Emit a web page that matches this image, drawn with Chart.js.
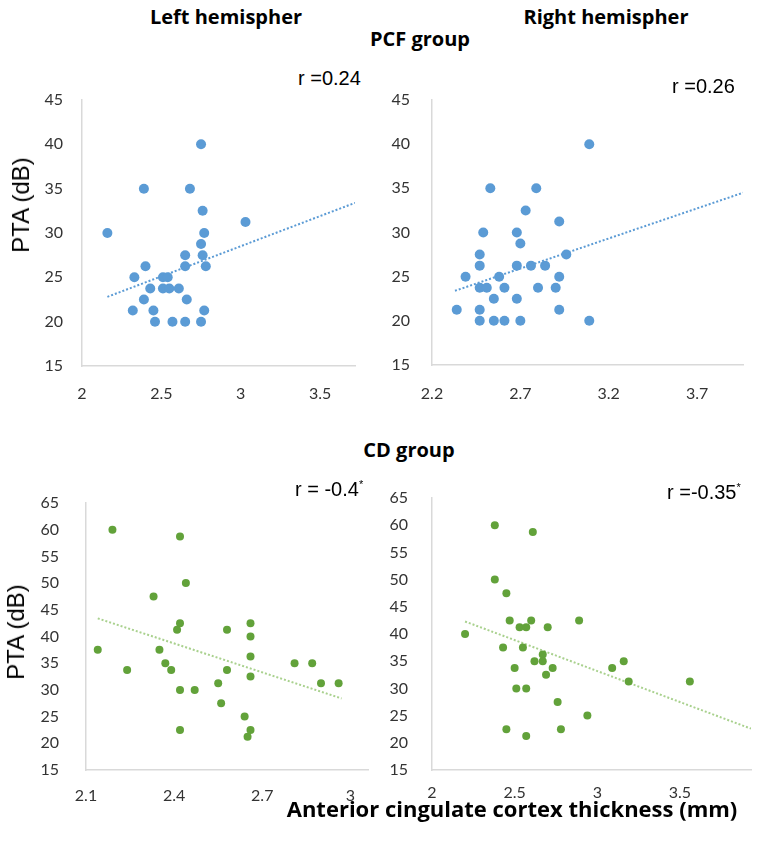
<!DOCTYPE html>
<html lang="en">
<head>
    <meta charset="UTF-8">
    <title>PTA vs anterior cingulate cortex thickness</title>
    <script src="https://cdn.jsdelivr.net/npm/chart.js@4.4.0/dist/chart.umd.min.js"></script>
    <style>
        body {
            margin: 0;
            width: 769px;
            height: 843px;
            position: relative;
            background: #fff;
            overflow: hidden;
        }
        canvas {
            position: absolute;
        }
        .txt {
            position: absolute;
            white-space: nowrap;
            line-height: 1;
            transform: translate(-50%, -50%);
            color: #000;
        }
        .head {
            font-family: "Open Sans", sans-serif;
            font-weight: bold;
            font-size: 20px;
        }
        .r {
            font-family: "Liberation Sans", Arial, sans-serif;
            font-size: 20px;
            transform: translate(0, -50%);
        }
        .r sup {
            font-size: 11px;
            vertical-align: 8px;
        }
        .ytitle {
            font-family: "Liberation Sans", Arial, sans-serif;
            font-size: 24px;
            transform: translate(-50%, -50%) rotate(-90deg);
        }
    </style>
</head>
<body>
    <canvas id="pcfLeft" width="365" height="320" style="left:0px;top:90px"></canvas>
    <canvas id="pcfRight" width="373" height="320" style="left:380px;top:90px"></canvas>
    <canvas id="cdLeft" width="378" height="320" style="left:0px;top:493px"></canvas>
    <canvas id="cdRight" width="381" height="320" style="left:380px;top:488px"></canvas>

    <div class="txt head" style="left:226px;top:17px">Left hemispher</div>
    <div class="txt head" style="left:606px;top:17px">Right hemispher</div>
    <div class="txt head" style="left:420px;top:39px">PCF group</div>
    <div class="txt head" style="left:409px;top:450px">CD group</div>
    <div class="txt head" style="left:512px;top:808px;font-size:22px">Anterior cingulate cortex thickness (mm)</div>

    <div class="txt r" style="left:298px;top:78px">r =0.24</div>
    <div class="txt r" style="left:672px;top:86px">r =0.26</div>
    <div class="txt r" style="left:295px;top:489px">r = -0.4<sup>*</sup></div>
    <div class="txt r" style="left:667px;top:492px">r =-0.35<sup>*</sup></div>

    <div class="txt ytitle" style="left:21px;top:205px">PTA (dB)</div>
    <div class="txt ytitle" style="left:16px;top:632px">PTA (dB)</div>

    <script>
        // PCF group, left hemisphere
        const pcfLeftX = [2.16, 2.39, 2.68, 2.75, 2.76, 3.03, 2.77, 2.75, 2.65, 2.76, 2.40, 2.65, 2.78, 2.33, 2.51,
                          2.54, 2.43, 2.51, 2.55, 2.61, 2.39, 2.66, 2.32, 2.45, 2.77, 2.46, 2.57, 2.65, 2.75];
        const pcfLeftY = [30, 35, 35, 40, 32.5, 31.25, 30, 28.75, 27.5, 27.5, 26.25, 26.25, 26.25, 25, 25,
                          25, 23.75, 23.75, 23.75, 23.75, 22.5, 22.5, 21.25, 21.25, 21.25, 20, 20, 20, 20];
        const pcfLeftTrendX = [2.16, 3.72];
        const pcfLeftTrendY = [22.8, 33.4];

        // PCF group, right hemisphere
        const pcfRightX = [3.09, 2.53, 2.79, 2.73, 2.92, 2.49, 2.68, 2.70, 2.47, 2.96, 2.47, 2.68, 2.76, 2.84, 2.39, 2.58,
                           2.92, 2.47, 2.51, 2.61, 2.80, 2.90, 2.55, 2.68, 2.34, 2.47, 2.92, 2.47, 2.55, 2.61, 2.70, 3.09];
        const pcfRightY = [40, 35, 35, 32.5, 31.25, 30, 30, 28.75, 27.5, 27.5, 26.25, 26.25, 26.25, 26.25, 25, 25,
                           25, 23.75, 23.75, 23.75, 23.75, 23.75, 22.5, 22.5, 21.25, 21.25, 21.25, 20, 20, 20, 20, 20];
        const pcfRightTrendX = [2.33, 3.96];
        const pcfRightTrendY = [23.4, 34.5];

        // CD group, left hemisphere
        const cdLeftX = [2.19, 2.42, 2.44, 2.33, 2.42, 2.41, 2.14, 2.35, 2.24, 2.37, 2.39, 2.42, 2.47, 2.55, 2.56,
                         2.58, 2.58, 2.66, 2.66, 2.66, 2.66, 2.64, 2.66, 2.65, 2.42, 2.81, 2.87, 2.90, 2.96];
        const cdLeftY = [60, 58.75, 50, 47.5, 42.5, 41.25, 37.5, 37.5, 33.75, 35, 33.75, 30, 30, 31.25, 27.5,
                         33.75, 41.25, 42.5, 40, 36.25, 32.5, 25, 22.5, 21.25, 22.5, 35, 35, 31.25, 31.25];
        const cdLeftTrendX = [2.14, 2.97];
        const cdLeftTrendY = [43.4, 28.4];

        // CD group, right hemisphere
        const cdRightX = [2.38, 2.61, 2.38, 2.45, 2.47, 2.60, 2.89, 2.53, 2.57, 2.70, 2.20, 2.43, 2.55, 2.67, 2.62,
                          2.67, 2.50, 2.73, 2.69, 3.09, 3.16, 3.19, 3.56, 2.51, 2.57, 2.76, 2.94, 2.45, 2.78, 2.57];
        const cdRightY = [60, 58.75, 50, 47.5, 42.5, 42.5, 42.5, 41.25, 41.25, 41.25, 40, 37.5, 37.5, 36.25, 35,
                          35, 33.75, 33.75, 32.5, 33.75, 35, 31.25, 31.25, 30, 30, 27.5, 25, 22.5, 22.5, 21.25];
        const cdRightTrendX = [2.2, 3.93];
        const cdRightTrendY = [42.3, 22.6];

        // tick values (also used as the tick labels)
        const pcfYTicks = [15, 20, 25, 30, 35, 40, 45];
        const cdYTicks = [15, 20, 25, 30, 35, 40, 45, 50, 55, 60, 65];
        const pcfLeftXTicks = [2, 2.5, 3, 3.5];
        const pcfRightXTicks = [2.2, 2.7, 3.2, 3.7];
        const cdLeftXTicks = [2.1, 2.4, 2.7, 3];
        const cdRightXTicks = [2, 2.5, 3, 3.5];

        const toPoints = (xs, ys) => xs.map((x, i) => ({ x: x, y: ys[i] }));

        function axis(min, max, ticks, fixedSize, padding, isY) {
            return {
                type: 'linear',
                min: min,
                max: max,
                grid: { display: false, drawTicks: false },
                border: { display: true, color: '#d9d9d9', width: 1.5 },
                ticks: {
                    padding: padding,
                    autoSkip: false,
                    maxRotation: 0,
                    color: '#333',
                    font: { family: 'Lato, sans-serif', size: 16 },
                    callback: v => String(v)
                },
                afterBuildTicks: s => { s.ticks = ticks.map(v => ({ value: v })); },
                afterFit: s => {
                    // the plot box is placed by the canvas position, not by label overflow
                    s.paddingTop = 0; s.paddingBottom = 0;
                    s.paddingLeft = 0; s.paddingRight = 0;
                    if (isY) s.width = fixedSize; else s.height = fixedSize;
                }
            };
        }

        function makePanel(id, p) {
            return new Chart(document.getElementById(id).getContext('2d'), {
                type: 'scatter',
                data: {
                    datasets: [{
                        data: toPoints(p.xs, p.ys),
                        pointRadius: p.radius,
                        pointBackgroundColor: p.color,
                        pointBorderWidth: 0,
                        showLine: false
                    }, {
                        data: toPoints(p.trendX, p.trendY),
                        showLine: true,
                        pointRadius: 0,
                        borderColor: p.trendColor,
                        borderWidth: 2,
                        borderDash: [2, 2],
                        fill: false
                    }]
                },
                options: {
                    responsive: false,
                    animation: false,
                    events: [],
                    layout: { padding: { top: 10, right: 10, left: 0, bottom: 0 } },
                    plugins: { legend: { display: false }, tooltip: { enabled: false } },
                    scales: {
                        x: axis(p.xMin, p.xMax, p.xTicks, p.xAxisH, p.xPad, false),
                        y: axis(p.yMin, p.yMax, p.yTicks, p.yAxisW, p.yPad, true)
                    }
                }
            });
        }

        const blue = '#5b9bd5';
        const green = '#62a23a';

        makePanel('pcfLeft', {
            xs: pcfLeftX, ys: pcfLeftY, trendX: pcfLeftTrendX, trendY: pcfLeftTrendY,
            xMin: 2, xMax: 3.72, xTicks: pcfLeftXTicks, yMin: 15, yMax: 45, yTicks: pcfYTicks,
            xAxisH: 44, yAxisW: 82, xPad: 18, yPad: 19,
            radius: 5, color: blue, trendColor: blue
        });
        makePanel('pcfRight', {
            xs: pcfRightX, ys: pcfRightY, trendX: pcfRightTrendX, trendY: pcfRightTrendY,
            xMin: 2.2, xMax: 3.96, xTicks: pcfRightXTicks, yMin: 15, yMax: 45, yTicks: pcfYTicks,
            xAxisH: 45, yAxisW: 52, xPad: 19, yPad: 22,
            radius: 5, color: blue, trendColor: blue
        });
        makePanel('cdLeft', {
            xs: cdLeftX, ys: cdLeftY, trendX: cdLeftTrendX, trendY: cdLeftTrendY,
            xMin: 2.1, xMax: 3.06, xTicks: cdLeftXTicks, yMin: 15, yMax: 65, yTicks: cdYTicks,
            xAxisH: 43, yAxisW: 86, xPad: 16, yPad: 27,
            radius: 4, color: green, trendColor: '#a9d18e'
        });
        makePanel('cdRight', {
            xs: cdRightX, ys: cdRightY, trendX: cdRightTrendX, trendY: cdRightTrendY,
            xMin: 2, xMax: 3.93, xTicks: cdRightXTicks, yMin: 15, yMax: 65, yTicks: cdYTicks,
            xAxisH: 38, yAxisW: 52, xPad: 13, yPad: 24,
            radius: 4, color: green, trendColor: '#a9d18e'
        });
    </script>
</body>
</html>
